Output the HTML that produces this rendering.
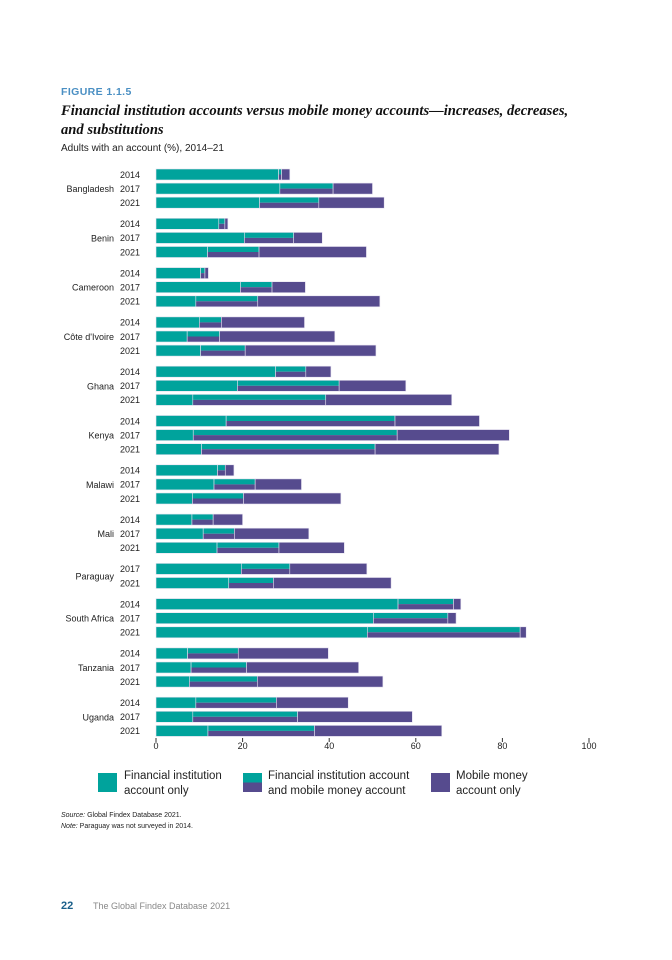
<!DOCTYPE html>
<html><head><meta charset="utf-8"><style>
html,body{margin:0;padding:0;background:#fff;}
body{width:672px;height:960px;position:relative;overflow:hidden;font-family:"Liberation Sans",sans-serif;}
.t{position:absolute;white-space:nowrap;}
</style></head><body>
<div class="t" style="left:61px;top:86px;font-size:10.5px;font-weight:bold;color:#4a8fc3;letter-spacing:0.4px;">FIGURE 1.1.5</div>
<div class="t" style="left:61px;top:102px;font-family:'Liberation Serif',serif;font-style:italic;font-weight:bold;font-size:14.6px;line-height:19px;color:#111;">Financial institution accounts versus mobile money accounts—increases, decreases,<br>and substitutions</div>
<div class="t" style="left:61px;top:143px;font-size:10px;color:#222;">Adults with an account (%), 2014–21</div>
<svg id="chart" width="672" height="960" style="position:absolute;left:0;top:0;"></svg>
<div class="t" style="left:61px;top:812px;font-size:7px;color:#222;"><i>Source:</i> Global Findex Database 2021.</div>
<div class="t" style="left:61px;top:823px;font-size:7px;color:#222;"><i>Note:</i> Paraguay was not surveyed in 2014.</div>
<div class="t" style="left:61px;top:900px;font-size:11px;font-weight:bold;color:#1a5f8a;">22</div>
<div class="t" style="left:93px;top:901px;font-size:9px;color:#888;">The Global Findex Database 2021</div>
<script>
const countries=["Bangladesh","Benin","Cameroon","Côte d'Ivoire","Ghana","Kenya","Malawi","Mali","Paraguay","South Africa","Tanzania","Uganda"];
const years=[["2014","2017","2021"],["2014","2017","2021"],["2014","2017","2021"],["2014","2017","2021"],["2014","2017","2021"],["2014","2017","2021"],["2014","2017","2021"],["2014","2017","2021"],["2017","2021"],["2014","2017","2021"],["2014","2017","2021"],["2014","2017","2021"]];
const fiOnly=[[28.3,28.6,23.9],[14.5,20.4,11.9],[10.3,19.5,9.2],[10.0,7.2,10.3],[27.6,18.8,8.5],[16.2,8.6,10.5],[14.2,13.4,8.4],[8.3,10.9,14.1],[19.7,16.8],[55.9,50.2,48.8],[7.3,8.1,7.7],[9.2,8.5,12.0]];
const both=[[0.7,12.3,13.7],[1.4,11.4,11.9],[1.0,7.3,14.3],[5.1,7.5,10.3],[7.0,23.5,30.7],[39.0,47.1,40.1],[1.8,9.5,11.8],[4.9,7.2,14.3],[11.2,10.3],[12.8,17.2,35.3],[11.7,12.8,15.7],[18.6,24.2,24.6]];
const mobOnly=[[1.9,9.1,15.1],[0.7,6.6,24.8],[0.8,7.7,28.2],[19.2,26.6,30.2],[5.8,15.4,29.1],[19.5,25.9,28.6],[2.0,10.7,22.5],[6.8,17.2,15.1],[17.8,27.2],[1.7,1.9,1.4],[20.8,25.9,29.0],[16.6,26.5,29.4]];
const ticks=[0,20,40,60,80,100];
const TEAL="#00a39c",PURP="#564b8e";
const svg=document.getElementById('chart');const NS="http://www.w3.org/2000/svg";
function xs(v){return 156+v*4.33;}
function mk(tag,attrs,parent){const e=document.createElementNS(NS,tag);for(const k in attrs)e.setAttribute(k,attrs[k]);(parent||svg).appendChild(e);return e;}
const BH=11,PITCH=14.1,GAP=7;
let y=169;
countries.forEach((c,ci)=>{
  const g=mk('g',{});
  
  
  const n=years[ci].length;
  const cy=y+((n-1)*PITCH)/2+BH/2+3.5;
  const lab=mk('text',{x:114,y:cy,'text-anchor':'end','font-size':'9','fill':'#222','font-family':'Liberation Sans, sans-serif'},g);
  lab.textContent=c;
  
  
  years[ci].forEach((yr,i)=>{
    const ry=y+i*PITCH;
    const yl=mk('text',{x:140,y:ry+BH/2+3.3,'text-anchor':'end','font-size':'9','fill':'#222','font-family':'Liberation Sans, sans-serif'},g);
    yl.textContent=yr;
    
    
    const a=fiOnly[ci][i],b=both[ci][i],m=mobOnly[ci][i];
    const r1=mk('rect',{x:xs(0),y:ry,width:xs(a)-xs(0),height:BH,fill:TEAL,stroke:'#e6e2f0','stroke-width':0.6},g);
    
    
    const r2a=mk('rect',{x:xs(a),y:ry,width:xs(a+b)-xs(a),height:BH/2,fill:TEAL},g);
    
    
    const r2b=mk('rect',{x:xs(a),y:ry+BH/2,width:xs(a+b)-xs(a),height:BH/2,fill:PURP},g);
    
    
    mk('rect',{x:xs(a),y:ry,width:xs(a+b)-xs(a),height:BH,fill:'none',stroke:'#e6e2f0','stroke-width':0.6},g);
    const r3=mk('rect',{x:xs(a+b),y:ry,width:xs(a+b+m)-xs(a+b),height:BH,fill:PURP,stroke:'#e6e2f0','stroke-width':0.6},g);
    
    
  });
  y+=n*PITCH+GAP;
});
ticks.forEach(t=>{
  const l=mk('line',{x1:xs(t),x2:xs(t),y1:738,y2:742,stroke:'#333','stroke-width':1});
  
  
  const tx=mk('text',{x:xs(t),y:749,'text-anchor':'middle','font-size':'9','fill':'#222','font-family':'Liberation Sans, sans-serif'});
  tx.textContent=t;
  
  
});
const lg=mk('g',{});


function legText(x,y1,lines){lines.forEach((s,i)=>{const t=mk('text',{x:x,y:y1+i*15,'font-size':'11.5','fill':'#222','font-family':'Liberation Sans, sans-serif'},lg);t.textContent=s;});}
const l1=mk('rect',{x:98,y:773,width:19,height:19,fill:TEAL},lg);


legText(124,779,["Financial institution","account only"]);
const l2a=mk('rect',{x:243,y:773,width:19,height:9.5,fill:TEAL},lg);


const l2b=mk('rect',{x:243,y:782.5,width:19,height:9.5,fill:PURP},lg);


legText(268,779,["Financial institution account","and mobile money account"]);
const l3=mk('rect',{x:431,y:773,width:19,height:19,fill:PURP},lg);


legText(456,779,["Mobile money","account only"]);
</script>
</body></html>
